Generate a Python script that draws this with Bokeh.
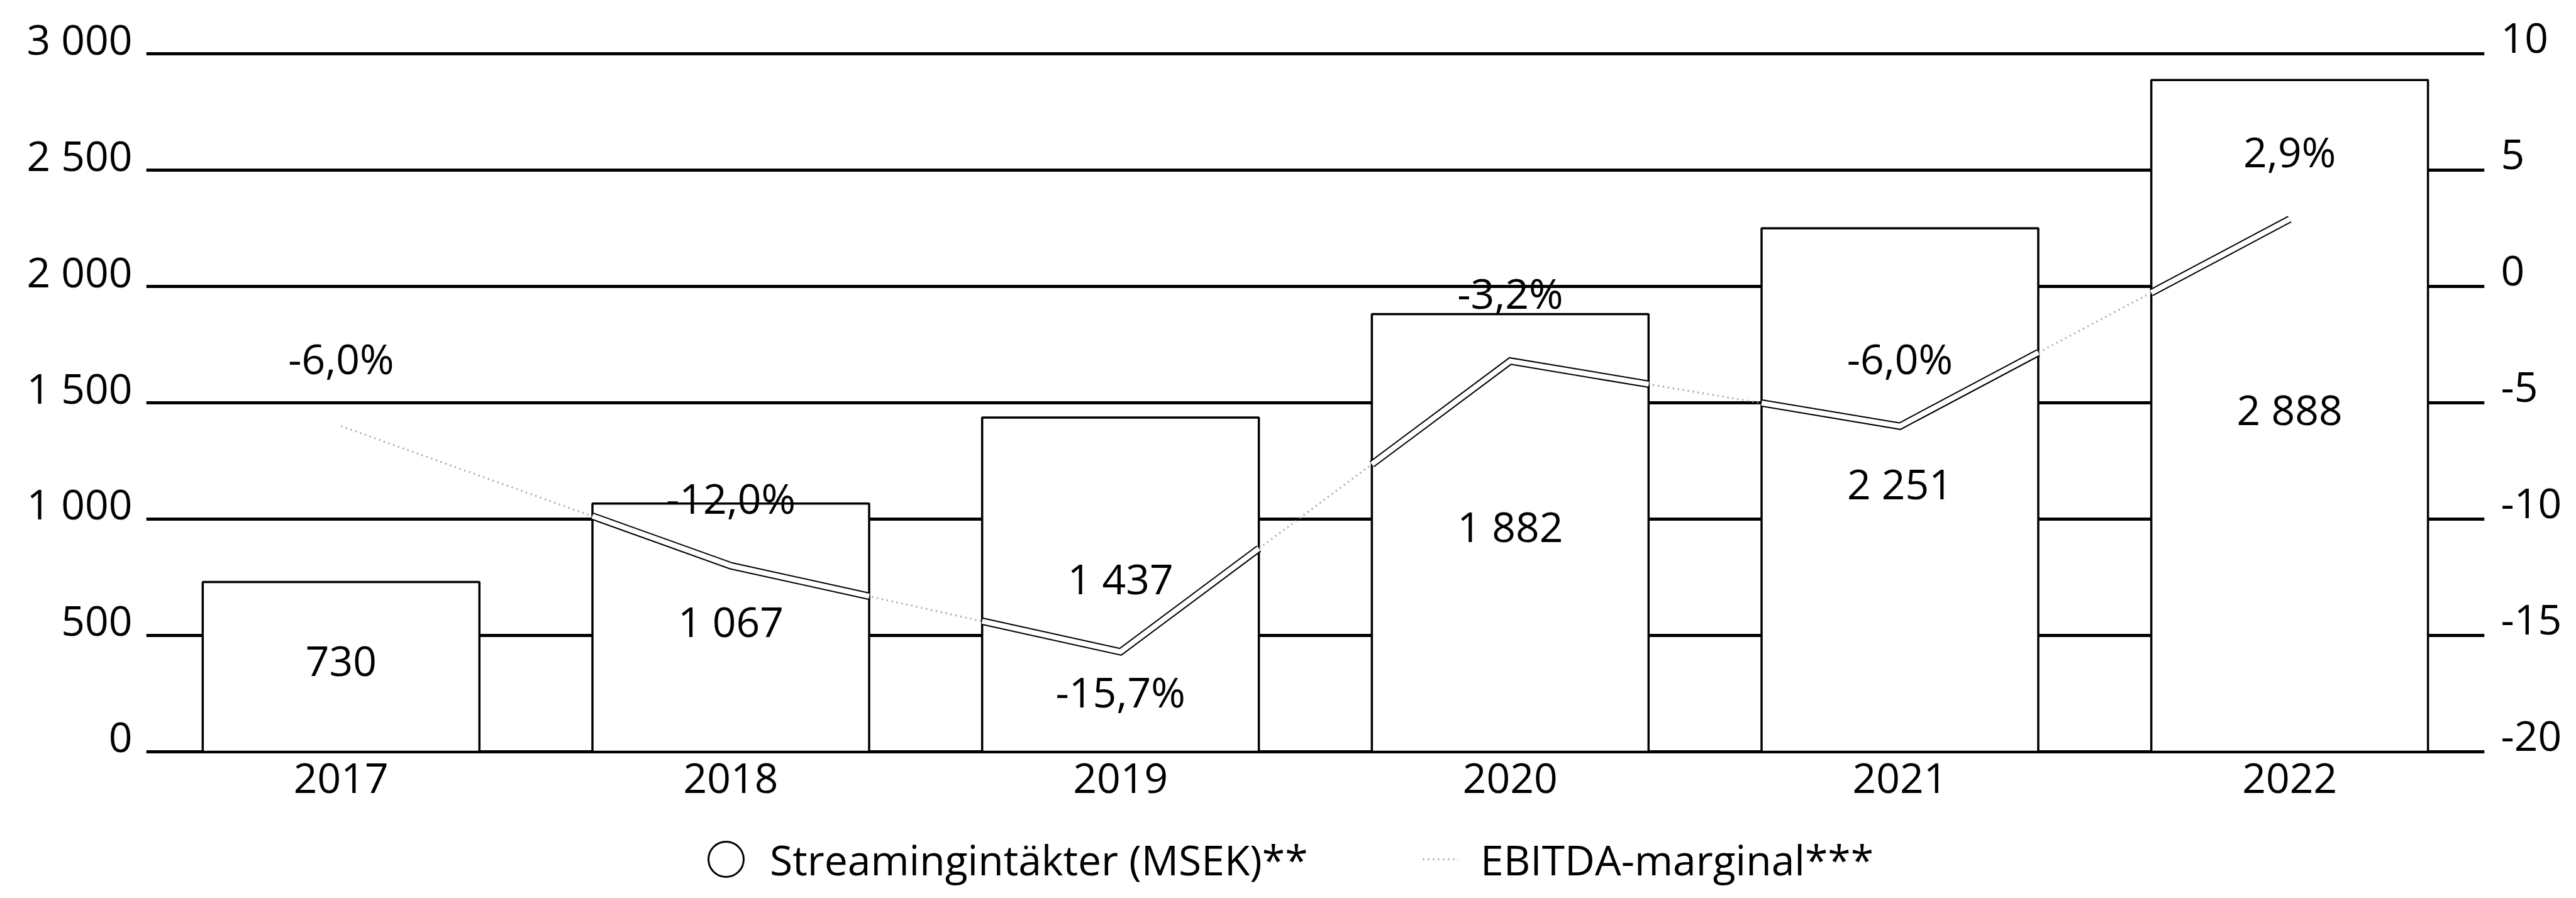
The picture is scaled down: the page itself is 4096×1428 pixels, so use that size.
from bokeh.plotting import figure
from bokeh.models import (ColumnDataSource, Range1d, FixedTicker, Grid, LabelSet,
                          Legend, LegendItem, LinearAxis)
from bokeh.embed import file_html
from bokeh.resources import INLINE
from bokeh.core.properties import value

# ---------------- data ----------------
years = ["2017", "2018", "2019", "2020", "2021", "2022"]
revenue = [730, 1067, 1437, 1882, 2251, 2888]          # Streamingintäkter (MSEK)
ebitda_margin = [-6.0, -12.0, -15.7, -3.2, -6.0, 2.9]  # EBITDA-marginal (%)
left_ticks = [0, 500, 1000, 1500, 2000, 2500, 3000]
right_ticks = [-20, -15, -10, -5, 0, 5, 10]
bar_label = "Streamingintäkter (MSEK)**"
line_label = "EBITDA-marginal***"

# ---------------- style / layout ----------------
FONT = "Open Sans"
FS = "66px"
W, H = 4080, 1412
ML, MR = 232, 130
Y_ZERO_PX, Y_TOP_PX = 1195.0, 85.4      # canvas rows of the 0 and 3000 grid lines
BAR_W = 0.71
LABEL_LIFT_PX = 25                       # tick labels sit above their grid line


def sek(v):
    return f"{v:,}".replace(",", " ")


def pct(v):
    return f"{v:.1f}%".replace(".", ",")


idx = list(range(len(years)))
left_lo, left_hi = left_ticks[0], left_ticks[-1]
right_lo, right_hi = right_ticks[0], right_ticks[-1]
k = (right_hi - right_lo) / (left_hi - left_lo)
unit = (Y_ZERO_PX - Y_TOP_PX) / (left_hi - left_lo)
y_start = left_lo - (H - Y_ZERO_PX) / unit
y_end = left_hi + Y_TOP_PX / unit

p = figure(width=W, height=H, output_backend="svg", toolbar_location=None,
           x_range=Range1d(-0.5, len(years) - 0.5),
           y_range=Range1d(y_start, y_end),
           x_axis_location=None, y_axis_location="left",
           min_border_left=ML, min_border_right=MR,
           min_border_top=0, min_border_bottom=0)
p.extra_y_ranges = {"pct": Range1d(right_lo + (y_start - left_lo) * k,
                                   right_lo + (y_end - left_lo) * k)}
p.outline_line_color = None
p.background_fill_color = "white"
p.border_fill_color = "white"
p.xgrid.visible = False
for g in p.ygrid:
    g.visible = False

p.add_layout(Grid(dimension=1, ticker=FixedTicker(ticks=left_ticks),
                  grid_line_color="black", grid_line_width=5))

# ---------------- axes ----------------
lift = LABEL_LIFT_PX / unit
lt = [v + round(lift) for v in left_ticks]
yl = p.yaxis[0]
yl.ticker = FixedTicker(ticks=lt)
yl.major_label_overrides = {t: sek(v) for t, v in zip(lt, left_ticks)}
rt = [v + round(lift) * k for v in right_ticks]
yr = LinearAxis(y_range_name="pct", ticker=FixedTicker(ticks=rt),
                major_label_overrides={t: str(v) for t, v in zip(rt, right_ticks)})
p.add_layout(yr, "right")
for ax, so in ((yl, 22), (yr, 26)):
    ax.axis_line_color = None
    ax.major_tick_line_color = None
    ax.minor_tick_line_color = None
    ax.major_tick_out = 0
    ax.major_tick_in = 0
    ax.major_label_standoff = so
    ax.major_label_text_font = FONT
    ax.major_label_text_font_size = FS
    ax.major_label_text_color = "black"

# ---------------- bars ----------------
bar_src = ColumnDataSource(dict(
    x=idx, top=revenue, mid=[v / 2 for v in revenue], txt=[sek(v) for v in revenue],
    year=years, zero=[0] * len(years)))
p.vbar(x="x", top="top", width=BAR_W, source=bar_src,
       fill_color="white", line_color="black", line_width=3.5)

# faint full line (where it runs over the white background)
r_line = p.line(idx, ebitda_margin, y_range_name="pct",
                line_color="#a0a0a0", line_width=3, line_dash="2 6")

# outlined double line where it lies inside the bars
bar_tops_pct = [v * k + right_lo for v in revenue]
half = BAR_W / 2
segs = []
for i in range(len(idx) - 1):
    x0, y0, x1, y1 = idx[i], ebitda_margin[i], idx[i + 1], ebitda_margin[i + 1]
    dx, dy = x1 - x0, y1 - y0
    for bx, btop in zip(idx, bar_tops_pct):
        lo, hi = 0.0, 1.0
        tl, th = (bx - half - x0) / dx, (bx + half - x0) / dx
        lo, hi = max(lo, min(tl, th)), min(hi, max(tl, th))
        if dy == 0:
            if y0 > btop:
                continue
        else:
            t = (btop - y0) / dy
            if dy > 0:
                hi = min(hi, t)
            else:
                lo = max(lo, t)
        if hi > lo:
            xa, ya, xb, yb = x0 + dx * lo, y0 + dy * lo, x0 + dx * hi, y0 + dy * hi
            if segs and abs(segs[-1][0][-1] - xa) < 1e-9 and abs(segs[-1][1][-1] - ya) < 1e-9:
                segs[-1][0].append(xb)
                segs[-1][1].append(yb)
            else:
                segs.append(([xa, xb], [ya, yb]))
seg_src = ColumnDataSource(dict(xs=[s[0] for s in segs], ys=[s[1] for s in segs]))
p.multi_line("xs", "ys", source=seg_src, y_range_name="pct", line_color="black",
             line_width=12, line_join="miter")
p.multi_line("xs", "ys", source=seg_src, y_range_name="pct", line_color="white",
             line_width=8, line_join="miter")

txt_style = dict(text_font=value(FONT), text_font_size=value(FS), text_color="black")

# value labels
p.add_layout(LabelSet(x="x", y="mid", text="txt", source=bar_src, y_offset=-15,
                      text_align="center", text_baseline="alphabetic", **txt_style))

m_min = min(ebitda_margin)
pct_src = ColumnDataSource(dict(
    x=idx, y=ebitda_margin, txt=[pct(v) for v in ebitda_margin],
    off=[-89 if v == m_min else 83 for v in ebitda_margin]))
p.add_layout(LabelSet(x="x", y="y", text="txt", source=pct_src, y_offset="off",
                      y_range_name="pct", text_align="center", text_baseline="alphabetic",
                      **txt_style))

# category labels under the bars
p.add_layout(LabelSet(x="x", y="zero", text="year", source=bar_src, y_offset=-65,
                      text_align="center", text_baseline="alphabetic", **txt_style))

# ---------------- legends ----------------
marker_src = ColumnDataSource(dict(x=[float("nan")], y=[float("nan")]))
r_circ = p.scatter("x", "y", source=marker_src, marker="circle", fill_color="white",
                   line_color="black", line_width=3)
common = dict(orientation="horizontal", padding=0, margin=0, spacing=0,
              border_line_color=None, background_fill_alpha=0,
              label_text_font=FONT, label_text_font_size=FS, label_text_color="black")
GLYPH = 140
row_center = H - 1366
leg_y = row_center - GLYPH / 2
leg1 = Legend(items=[LegendItem(label=bar_label, renderers=[r_circ])],
              location=(852, leg_y), glyph_width=GLYPH, glyph_height=GLYPH,
              label_standoff=0, **common)
leg2 = Legend(items=[LegendItem(label=line_label, renderers=[r_line])],
              location=(2030, leg_y), glyph_width=57, glyph_height=GLYPH,
              label_standoff=35, **common)
p.add_layout(leg1)
p.add_layout(leg2)

open("out.html", "w").write(file_html(p, INLINE))
